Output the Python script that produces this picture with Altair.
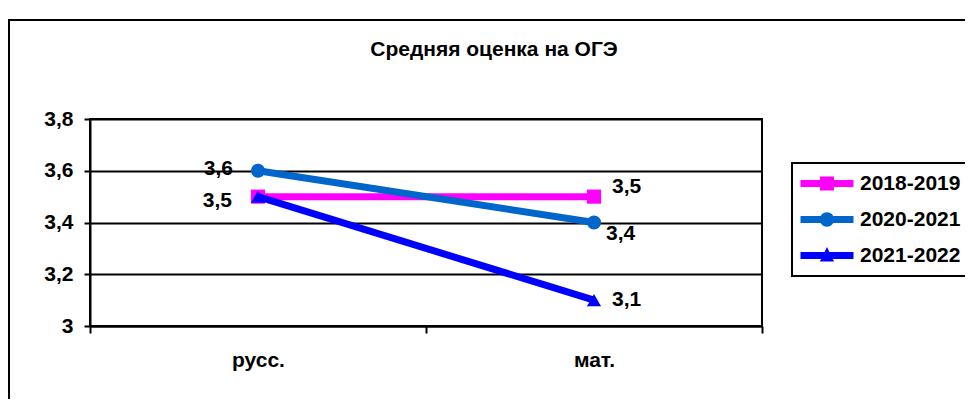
import altair as alt
import pandas as pd

categories = ["русс.", "мат."]
series = ["2018-2019", "2020-2021", "2021-2022"]
v_2018_2019 = [3.5, 3.5]
v_2020_2021 = [3.6, 3.4]
v_2021_2022 = [3.5, 3.1]
y_ticks = [3.0, 3.2, 3.4, 3.6, 3.8]
colors = ["#FF00FF", "#0066CC", "#0000FF"]
marker_shapes = ["square", "circle", "triangle-up"]
title_text = "Средняя оценка на ОГЭ"

rows = []
for s, vals in zip(series, [v_2018_2019, v_2020_2021, v_2021_2022]):
    for c, v in zip(categories, vals):
        rows.append({"cat": c, "series": s, "value": v})
df = pd.DataFrame(rows)

FONT = "Liberation Sans"
FS = 21

# legend symbols: thick line segment with the series marker in the middle
# (custom path units are scaled by sqrt(symbolSize)/2 = 8 px)
LINE = "M-1.5,-0.44H5.125V0.44H-1.5Z "
legend_paths = [
    LINE + "M0.935,-0.875H2.685V0.875H0.935Z",
    LINE + "M0.91,0A0.9,0.9 0 1,1 2.71,0A0.9,0.9 0 1,1 0.91,0Z",
    LINE + "M1.81,-1.05L2.7,0.75H0.92Z",
]

x_enc = alt.X(
    "cat:N",
    sort=categories,
    scale=alt.Scale(paddingInner=0, paddingOuter=0),
    axis=alt.Axis(title=None, tickBand="extent", labelAngle=0, grid=False,
                  tickSize=7, labelPadding=16),
)
y_enc = alt.Y(
    "value:Q",
    scale=alt.Scale(domain=[3, 3.8], nice=False, zero=False),
    axis=alt.Axis(title=None, values=y_ticks, grid=True, tickSize=6, labelPadding=11,
                  labelExpr="replace(toString(datum.value), '.', ',')"),
)
color_scale = alt.Scale(domain=series, range=colors)

base = alt.Chart(df).encode(x=x_enc, y=y_enc)

layers = []
# outer chart-area frame
frame = alt.Chart(pd.DataFrame({"k": [0]})).mark_rect(
    fillOpacity=0, stroke="black", strokeWidth=2
).encode(x=alt.value(-81), x2=alt.value(960), y=alt.value(-99), y2=alt.value(400))
layers.append(frame)

for s, sh, col in zip(series, marker_shapes, colors):
    sub = base.transform_filter(alt.datum.series == s)
    layers.append(sub.mark_line(strokeWidth=7, color=col))
    layers.append(sub.mark_point(shape=sh, filled=True, size=200, opacity=1, color=col))

leg_props = dict(
    title=None, orient="none", legendX=702, legendY=44, padding=10,
    strokeColor="black", symbolSize=256, symbolStrokeWidth=0,
    labelFont=FONT, labelFontSize=FS, labelFontWeight="bold", labelColor="black",
    labelOffset=37, rowPadding=14, labelExpr="datum.label + '    '",
)
legend_layer = base.transform_filter("false").mark_point(filled=True, opacity=1).encode(
    color=alt.Color("series:N", scale=color_scale, legend=alt.Legend(**leg_props)),
    shape=alt.Shape("series:N", scale=alt.Scale(domain=series, range=legend_paths),
                    legend=alt.Legend(**leg_props)),
)
layers.append(legend_layer)

label_base = base.transform_calculate(
    lbl="replace(format(datum.value, '.1f'), '.', ',')"
)


def lab(s, c, align, dx, dy):
    return label_base.transform_filter(
        (alt.datum.series == s) & (alt.datum.cat == c)
    ).mark_text(font=FONT, fontSize=FS, fontWeight="bold", color="black",
                align=align, baseline="middle", dx=dx, dy=dy).encode(text="lbl:N")


layers += [
    lab("2020-2021", "русс.", "right", -25, -2),
    lab("2021-2022", "русс.", "right", -26, 4),
    lab("2018-2019", "мат.", "left", 18, -10),
    lab("2020-2021", "мат.", "left", 12, 11),
    lab("2021-2022", "мат.", "left", 18, 0),
]

chart = alt.layer(*layers).properties(
    width=672, height=207,
    autosize=alt.AutoSizeParams(type="none"),
    padding={"left": 82, "top": 111, "right": 203, "bottom": 73},
    title=alt.TitleParams(title_text, font=FONT, fontSize=FS, fontWeight="bold",
                          color="black", anchor="middle", dx=68, offset=-41),
    background="white",
).configure_view(
    stroke="black", strokeWidth=2
).configure_axis(
    domainColor="black", domainWidth=2, tickColor="black", tickWidth=2,
    gridColor="black", gridWidth=2, gridOpacity=1,
    labelFont=FONT, labelFontSize=FS, labelFontWeight="bold", labelColor="black",
).configure_legend(
    strokeWidth=2
)

chart.save("out.html", embed_options={"renderer": "svg", "actions": False})
